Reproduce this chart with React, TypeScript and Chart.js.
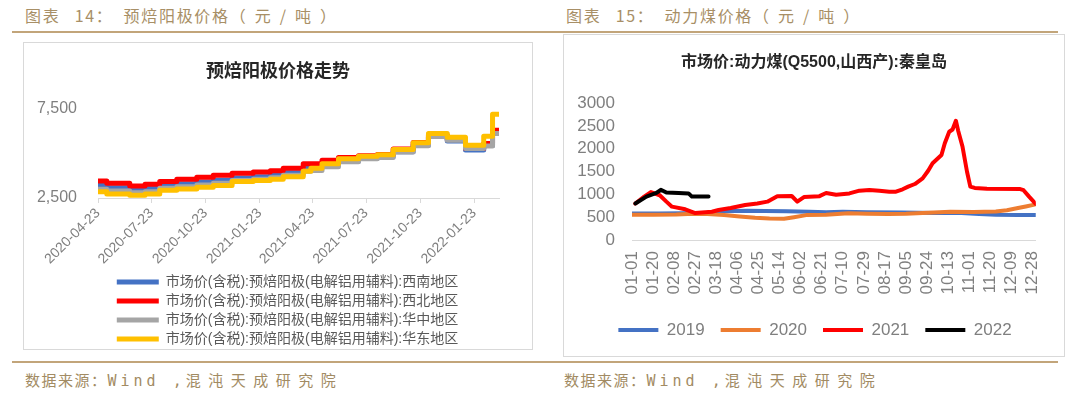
import React, { useEffect, useRef } from 'react';
import { Chart, registerables } from 'chart.js';

Chart.register(...registerables);

const FONT = '"Liberation Sans", "Noto Sans CJK SC", sans-serif';
Chart.defaults.font.family = FONT;

// ---------------- 图表14 data ----------------
const anodeTitle = '预焙阳极价格走势';
const anodeSeriesNames = [
  '市场价(含税):预焙阳极(电解铝用辅料):西南地区',
  '市场价(含税):预焙阳极(电解铝用辅料):西北地区',
  '市场价(含税):预焙阳极(电解铝用辅料):华中地区',
  '市场价(含税):预焙阳极(电解铝用辅料):华东地区',
];
const anodeDates = [
  '2020-04-23', '2020-05-08', '2020-06-16', '2020-07-12', '2020-08-06', '2020-09-04',
  '2020-10-08', '2020-11-05', '2020-12-07', '2021-01-12', '2021-02-10', '2021-03-04',
  '2021-04-07', '2021-04-20', '2021-05-09', '2021-06-06', '2021-07-10', '2021-08-11',
  '2021-09-07', '2021-10-11', '2021-11-06', '2021-12-08', '2022-01-08', '2022-02-08',
  '2022-02-23', '2022-03-06',
];
const anodeSouthwest = [3200, 3080, 2990, 3050, 3200, 3300, 3400, 3500, 3620, 3700, 3780, 3920, 4200, 4200, 4380, 4560, 4740, 4820, 5100, 5460, 5950, 5700, 5200, 5450, 6180, 6180];
const anodeNorthwest = [3450, 3330, 3180, 3270, 3420, 3550, 3660, 3780, 3890, 3960, 4030, 4170, 4430, 4430, 4620, 4780, 4880, 4950, 5250, 5620, 6020, 5780, 5280, 5560, 6300, 6300];
const anodeCentral = [2990, 2900, 2800, 2850, 3050, 3130, 3230, 3330, 3480, 3560, 3640, 3780, 4000, 4050, 4260, 4540, 4700, 4780, 5080, 5440, 5960, 5740, 5280, 5420, 6120, 6120];
const anodeEast = [2850, 2730, 2660, 2730, 2940, 3000, 3100, 3200, 3420, 3480, 3560, 3700, 4000, 4170, 4420, 4700, 4840, 4930, 5230, 5600, 6130, 5910, 5470, 5970, 7200, 7200];
const anodeTickDates = ['2020-04-23', '2020-07-23', '2020-10-23', '2021-01-23', '2021-04-23', '2021-07-23', '2021-10-23', '2022-01-23'];
const anodeAxisEnd = '2022-03-06';
const anodeYTicks = [2500, 7500];
const anodeColors = ['#4472C4', '#FF0000', '#A5A5A5', '#FFC000'];

// ---------------- 图表15 data ----------------
const coalTitle = '市场价:动力煤(Q5500,山西产):秦皇岛';
const coalYears = ['2019', '2020', '2021', '2022'];
const coalColors = ['#4472C4', '#ED7D31', '#FF0000', '#000000'];
const coalTickLabels = ['01-01', '01-20', '02-08', '02-27', '03-18', '04-06', '04-25', '05-14', '06-02', '06-21', '07-10', '07-29', '08-17', '09-05', '09-24', '10-13', '11-01', '11-20', '12-09', '12-28'];
const coalYTicks = [0, 500, 1000, 1500, 2000, 2500, 3000];

const coal2019Dates = ['01-01', '01-25', '02-15', '03-10', '03-25', '04-15', '05-01', '05-20', '06-10', '06-25', '07-10', '08-01', '09-01', '10-01', '10-25', '11-10', '11-25', '12-15', '12-31'];
const coal2019Values = [580, 580, 585, 595, 630, 640, 635, 630, 620, 610, 620, 605, 600, 590, 590, 570, 555, 550, 550];

const coal2020Dates = ['01-01', '01-20', '02-10', '02-25', '03-10', '03-25', '04-08', '04-22', '05-05', '05-18', '05-27', '06-07', '06-25', '07-15', '08-01', '08-20', '09-05', '09-25', '10-15', '11-05', '11-25', '12-05', '12-15', '12-22', '12-31'];
const coal2020Values = [555, 555, 560, 575, 570, 545, 515, 485, 470, 465, 500, 545, 555, 585, 575, 570, 575, 595, 620, 615, 625, 650, 700, 735, 780];

const coal2021Dates = ['01-04', '01-12', '01-18', '01-26', '02-01', '02-06', '02-18', '02-27', '03-08', '03-14', '03-20', '03-31', '04-13', '04-24', '05-03', '05-12', '05-25', '05-30', '06-05', '06-19', '06-25', '07-04', '07-16', '07-25', '08-03', '08-12', '08-21', '08-27', '09-02', '09-07', '09-13', '09-20', '09-25', '09-29', '10-07', '10-10', '10-14', '10-17', '10-20', '10-22', '10-26', '10-30', '11-02', '11-06', '11-17', '12-17', '12-20', '12-25', '12-31'];
const coal2021Values = [800, 950, 1050, 980, 840, 730, 672, 590, 610, 620, 657, 700, 766, 800, 840, 960, 963, 840, 940, 960, 1030, 990, 1020, 1080, 1095, 1080, 1058, 1058, 1110, 1168, 1226, 1350, 1517, 1680, 1860, 2117, 2370, 2420, 2610, 2400, 2040, 1500, 1170, 1140, 1120, 1115, 1090, 950, 790];

const coal2022Dates = ['01-04', '01-14', '01-23', '01-27', '02-01', '02-12', '02-21', '02-24', '03-11'];
const coal2022Values = [800, 950, 1030, 1100, 1040, 1030, 1020, 950, 950];

// ---------------- helpers ----------------
const DAY = 86400000;
const dayNum = (s: string) => {
  const [y, m, d] = s.split('-').map(Number);
  return Date.UTC(y, m - 1, d) / DAY;
};
const anodeBase = dayNum(anodeDates[0]);
const anodeX = (s: string) => dayNum(s) - anodeBase;
const doy = (md: string) => dayNum('2019-' + md) - dayNum('2019-01-01');

const shiftPlugin = {
  id: 'shiftBoxes',
  afterLayout(chart: any, _args: any, opts: any) {
    if (chart.legend && opts && opts.legendDx) {
      chart.legend.left += opts.legendDx;
      chart.legend.right += opts.legendDx;
    }
    if (chart.titleBlock && opts && opts.titleDx) {
      chart.titleBlock.left += opts.titleDx;
      chart.titleBlock.right += opts.titleDx;
    }
  },
};

const TICK_COLOR = '#7f7f7f';

function anodeConfig(): any {
  const values = [anodeSouthwest, anodeNorthwest, anodeCentral, anodeEast];
  return {
    type: 'line',
    data: {
      datasets: values.map((vals, i) => ({
        label: anodeSeriesNames[i],
        data: anodeDates.map((d, j) => ({ x: anodeX(d), y: vals[j] })),
        borderColor: anodeColors[i],
        backgroundColor: anodeColors[i],
        borderWidth: 5,
        stepped: true,
        pointRadius: 0,
        borderCapStyle: 'round',
        borderJoinStyle: 'round',
        order: 4 - i,
      })),
    },
    plugins: [shiftPlugin],
    options: {
      responsive: false,
      maintainAspectRatio: false,
      animation: false,
      layout: { padding: { top: 0, right: 33, bottom: 7, left: 0 } },
      plugins: {
        title: {
          display: true,
          text: anodeTitle,
          color: '#262626',
          font: { size: 18, weight: 'bold', family: FONT },
          padding: { top: 18.2, bottom: 26.2 },
        },
        legend: {
          display: true,
          position: 'bottom',
          labels: {
            usePointStyle: true,
            pointStyle: 'line',
            pointStyleWidth: 42,
            color: '#595959',
            font: { size: 14, family: FONT },
            padding: 5,
            sort: (a: any, b: any) => a.datasetIndex - b.datasetIndex,
          },
        },
        tooltip: { enabled: false },
        shiftBoxes: { titleDx: 16.5, legendDx: 26 },
      },
      scales: {
        x: {
          type: 'linear',
          min: 0,
          max: anodeX(anodeAxisEnd),
          afterBuildTicks: (s: any) => {
            s.ticks = anodeTickDates.map((d) => ({ value: anodeX(d) }));
          },
          afterFit: (s: any) => {
            s.height = 72;
          },
          ticks: {
            autoSkip: false,
            minRotation: 45,
            maxRotation: 45,
            padding: 2,
            color: TICK_COLOR,
            font: { size: 14, family: FONT },
            callback: (_v: any, i: number) => anodeTickDates[i],
          },
          grid: { display: true, drawOnChartArea: false, drawTicks: true, tickLength: 5, color: '#d9d9d9' },
          border: { display: true, color: '#d9d9d9', width: 1 },
        },
        y: {
          type: 'linear',
          min: anodeYTicks[0],
          max: anodeYTicks[anodeYTicks.length - 1],
          afterBuildTicks: (s: any) => {
            s.ticks = anodeYTicks.map((v) => ({ value: v }));
          },
          afterFit: (s: any) => {
            s.width = 74;
          },
          ticks: {
            autoSkip: false,
            padding: 21,
            color: TICK_COLOR,
            font: { size: 16, family: FONT },
            callback: (v: any) => Number(v).toLocaleString('en-US'),
          },
          grid: { display: false, drawTicks: false },
          border: { display: false },
        },
      },
    },
  };
}

function coalConfig(): any {
  const dates = [coal2019Dates, coal2020Dates, coal2021Dates, coal2022Dates];
  const values = [coal2019Values, coal2020Values, coal2021Values, coal2022Values];
  return {
    type: 'line',
    data: {
      datasets: coalYears.map((yr, i) => ({
        label: yr,
        data: dates[i].map((d, j) => ({ x: doy(d), y: values[i][j] })),
        borderColor: coalColors[i],
        backgroundColor: coalColors[i],
        borderWidth: 4,
        pointRadius: 0,
        tension: 0,
        borderCapStyle: 'round',
        borderJoinStyle: 'round',
        order: 4 - i,
      })),
    },
    plugins: [shiftPlugin],
    options: {
      responsive: false,
      maintainAspectRatio: false,
      animation: false,
      layout: { padding: { top: 0, right: 22, bottom: 6.5, left: 0 } },
      plugins: {
        title: {
          display: true,
          text: coalTitle,
          color: '#262626',
          font: { size: 16, weight: 'bold', family: FONT },
          padding: { top: 18.4, bottom: 30.4 },
        },
        legend: {
          display: true,
          position: 'bottom',
          labels: {
            usePointStyle: true,
            pointStyle: 'line',
            pointStyleWidth: 40,
            color: TICK_COLOR,
            font: { size: 17, family: FONT },
            padding: 16,
            sort: (a: any, b: any) => a.datasetIndex - b.datasetIndex,
          },
        },
        tooltip: { enabled: false },
        shiftBoxes: { titleDx: 11, legendDx: 12 },
      },
      scales: {
        x: {
          type: 'linear',
          min: 0,
          max: 364,
          afterBuildTicks: (s: any) => {
            s.ticks = coalTickLabels.map((l) => ({ value: doy(l) }));
          },
          afterFit: (s: any) => {
            s.height = 65.5;
          },
          ticks: {
            autoSkip: false,
            minRotation: 90,
            maxRotation: 90,
            padding: 11,
            color: TICK_COLOR,
            font: { size: 17, family: FONT },
            callback: (_v: any, i: number) => coalTickLabels[i],
          },
          grid: { display: false, drawTicks: false },
          border: { display: true, color: '#d9d9d9', width: 1 },
        },
        y: {
          type: 'linear',
          min: coalYTicks[0],
          max: coalYTicks[coalYTicks.length - 1],
          afterBuildTicks: (s: any) => {
            s.ticks = coalYTicks.map((v) => ({ value: v }));
          },
          afterFit: (s: any) => {
            s.width = 68;
          },
          ticks: {
            autoSkip: false,
            padding: 17,
            color: TICK_COLOR,
            font: { size: 17, family: FONT },
            callback: (v: any) => String(v),
          },
          grid: { display: false, drawTicks: false },
          border: { display: false },
        },
      },
    },
  };
}

function ChartCanvas(props: { make: () => any; left: number; top: number; width: number; height: number }) {
  const ref = useRef<HTMLCanvasElement | null>(null);
  useEffect(() => {
    const chart = new Chart(ref.current as HTMLCanvasElement, props.make());
    return () => chart.destroy();
  }, []);
  return (
    <canvas
      ref={ref}
      width={props.width}
      height={props.height}
      style={{ position: 'absolute', left: props.left, top: props.top, width: props.width, height: props.height }}
    />
  );
}

const headColor = '#a88f66';
const lineColor = '#c2a57a';

const headStyle: React.CSSProperties = {
  position: 'absolute',
  top: 4,
  fontFamily: '"Noto Sans CJK SC", sans-serif',
  fontSize: 16,
  lineHeight: '22px',
  letterSpacing: '1.7px',
  wordSpacing: '9px',
  color: headColor,
  whiteSpace: 'pre',
};

const footStyle: React.CSSProperties = {
  position: 'absolute',
  top: 369,
  fontFamily: '"Noto Sans CJK SC", sans-serif',
  fontSize: 15,
  lineHeight: '22px',
  letterSpacing: '1.5px',
  color: '#a28b63',
  whiteSpace: 'pre',
};

function Header(props: { left: number; num: string; name: string }) {
  return (
    <div style={{ ...headStyle, left: props.left }}>
      {'图表 ' + props.num}
      <span style={{ marginRight: 10 }}>：</span>
      {props.name}
      <span style={{ letterSpacing: '9px' }}>（元/吨）</span>
    </div>
  );
}

function Footer(props: { left: number }) {
  return (
    <div style={{ ...footStyle, left: props.left }}>
      数据来源：
      <span style={{ fontFamily: '"DejaVu Sans Mono", monospace', letterSpacing: '4px' }}>Wind ,</span>
      <span style={{ letterSpacing: '7.5px' }}>混沌天成研究院</span>
    </div>
  );
}

export default function App() {
  return (
    <div style={{ position: 'fixed', left: 0, top: 0, width: 1080, height: 394, background: '#fff', overflow: 'hidden' }}>
      <Header left={25} num="14" name="预焙阳极价格" />
      <Header left={566} num="15" name="动力煤价格" />
      <div style={{ position: 'absolute', left: 12, top: 31, width: 1046, height: 2, background: lineColor }} />
      <div style={{ position: 'absolute', left: 12, top: 361, width: 1046, height: 2, background: lineColor }} />
      <div style={{ position: 'absolute', left: 23, top: 42, width: 510, height: 308, border: '1px solid #d9d9d9', boxSizing: 'border-box' }} />
      <div style={{ position: 'absolute', left: 563, top: 34, width: 502, height: 323, border: '1px solid #d9d9d9', boxSizing: 'border-box' }} />
      <ChartCanvas make={anodeConfig} left={24} top={43} width={508} height={320} />
      <ChartCanvas make={coalConfig} left={564} top={35} width={500} height={320} />
      <Footer left={25} />
      <Footer left={564} />
    </div>
  );
}
